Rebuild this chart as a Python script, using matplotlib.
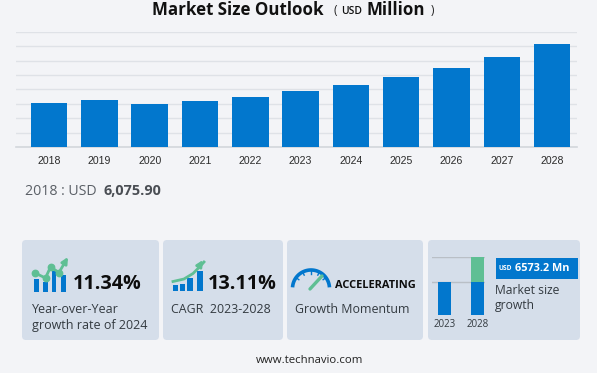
import numpy as np
import matplotlib
matplotlib.use('Agg')
import matplotlib.pyplot as plt
from matplotlib.patches import FancyBboxPatch, Rectangle

years = ['2018', '2019', '2020', '2021', '2022', '2023', '2024', '2025', '2026', '2027', '2028']
market_size = [6075.9, 6530, 5900, 6400, 7000, 7733, 8610, 9670, 10910, 12430, 14306]

# small bar icon in the last card, share of its height
mini_years = ['2023', '2028']
mini_base = [58, 58]
mini_growth = [0, 42]

BG = '#f3f4f7'
CARD = '#d5deea'
BLUE = '#0277cd'
GREEN = '#5fbf94'
GRID = '#dfe2e7'
DARK = '#333a40'
W, H = 597, 373

plt.rcParams['font.family'] = ['Open Sans', 'DejaVu Sans']

fig = plt.figure(figsize=(W / 100, H / 100), dpi=100, facecolor=BG)

# full figure axes in pixels, for cards, text and icons
bg = fig.add_axes([0, 0, 1, 1], zorder=0)
bg.set_xlim(0, W)
bg.set_ylim(H, 0)
bg.axis('off')


def px_axes(x0, y0, x1, y1):
    a = fig.add_axes([x0 / W, 1 - y1 / H, (x1 - x0) / W, (y1 - y0) / H], zorder=2)
    a.patch.set_alpha(0)
    return a


def label(x, y, s, size, weight='normal', color=DARK, ha='left'):
    bg.text(x, y, s, fontsize=size, fontweight=weight, color=color, ha=ha, va='center')


# main chart
ax = px_axes(16, 31.7, 577, 147)
ax.bar(range(len(years)), market_size, width=0.727, color=BLUE, zorder=3)
ax.set_xlim(-0.658, 10.495)
ax.set_ylim(0, 16000)
ax.set_yticks(np.arange(0, 16001, 2000))
ax.set_yticklabels([])
ax.set_xticks(range(len(years)))
ax.set_xticklabels(years, fontsize=7.6, color='#2b2b2b', family='Liberation Sans')
ax.tick_params(length=0, pad=6.5)
ax.grid(axis='y', color=GRID, lw=1, zorder=1)
for s in ['top', 'left', 'right']:
    ax.spines[s].set_visible(False)
ax.spines['bottom'].set_color('#d3d7dc')
ax.spines['bottom'].set_linewidth(1.2)

# title
label(152, 10, 'Market Size Outlook', 12.2, 'bold', '#111111')
label(334, 11, '(', 8.5, color='#222222')
label(341, 12, 'USD', 7.4, 'semibold', '#111111')
label(367, 10, 'Million', 12.2, 'bold', '#111111')
label(431, 11, ')', 8.5, color='#222222')

label(25, 191.5, '2018 : USD', 10.2, color='#5a5f66')
label(103.5, 191, '6,075.90', 10.4, 'bold', '#4a4e54')

# cards
for x0, x1 in [(22, 159), (163, 283), (287, 423), (428, 580)]:
    bg.add_patch(FancyBboxPatch((x0 + 3, 243), x1 - x0 - 6, 94,
                                boxstyle='round,pad=3,rounding_size=4',
                                fc=CARD, ec='none'))

# card 1
label(73, 284, '11.34%', 14.2, 'bold', '#0d0d0d')
label(31.5, 309.5, 'Year-over-Year', 9)
label(31.5, 325, 'growth rate of 2024', 9)
icon1_x = [36.6, 45.3, 54, 63.3]
icon1_top = [279, 282, 270.7, 275]
for x, t in zip(icon1_x, icon1_top):
    bg.add_patch(Rectangle((x - 2.3, t), 4.6, 291.7 - t, fc=BLUE, ec='none'))
icon1_lx = [35, 45.5, 50.5, 59, 65.5]
icon1_ly = [273, 278, 267, 272.5, 260]
bg.plot(icon1_lx[:-1], icon1_ly[:-1], color=GREEN, lw=2, marker='o', ms=4.6)
bg.annotate('', xy=(68, 257), xytext=(icon1_lx[3], icon1_ly[3]),
            arrowprops=dict(arrowstyle='-|>', color=GREEN, lw=2, mutation_scale=9,
                            shrinkA=0, shrinkB=0))

# card 2
label(207.5, 284, '13.11%', 14.2, 'bold', '#0d0d0d')
label(171, 309.5, 'CAGR  2023-2028', 8.9)
icon2_x = [173, 180, 187, 197]
icon2_top = [285, 283.7, 278.3, 271]
icon2_w = [5, 5, 6, 5.5]
for x, t, w in zip(icon2_x, icon2_top, icon2_w):
    bg.add_patch(Rectangle((x, t), w, 291 - t, fc=BLUE, ec='none'))
icon2_lx = [173, 184, 193, 200, 204]
icon2_ly = [281.5, 279, 273.5, 266.5, 262]
bg.plot(icon2_lx, icon2_ly, color=GREEN, lw=2)
bg.annotate('', xy=(203, 260), xytext=(199, 266.5),
            arrowprops=dict(arrowstyle='-|>', color=GREEN, lw=2, mutation_scale=9,
                            shrinkA=0, shrinkB=0))

# card 3
label(335, 285, 'ACCELERATING', 7.9, 'bold', '#0d0d0d')
label(295, 309.5, 'Growth Momentum', 8.9)
theta = np.linspace(np.pi * 0.02, np.pi * 0.98, 60)
bg.plot(311 - 18.5 * np.cos(theta), 288.5 - 18.5 * np.sin(theta), color=BLUE, lw=2.6,
        solid_capstyle='butt')
bg.plot([310, 322], [289, 276], color=GREEN, lw=2.4, solid_capstyle='round')
for a in np.linspace(0.2, 0.8, 5):
    bg.plot([311 - 18 * np.cos(a * np.pi), 311 - 15 * np.cos(a * np.pi)],
            [288.5 - 18 * np.sin(a * np.pi), 288.5 - 15 * np.sin(a * np.pi)],
            color=BLUE, lw=1)

# card 4
mini = px_axes(432, 257.3, 485, 315)
mini.bar(range(2), mini_base, width=0.38, color=BLUE, zorder=3)
mini.bar(range(2), mini_growth, bottom=mini_base, width=0.38, color=GREEN, zorder=3)
mini.set_xlim(-0.38, 1.22)
mini.set_ylim(0, 100)
mini.set_yticks([58, 100])
mini.set_yticklabels([])
mini.set_xticks(range(2))
mini.set_xticklabels(mini_years, fontsize=7, color=DARK)
mini.tick_params(length=0, pad=3)
mini.grid(axis='y', color='#b9bfc6', lw=1, zorder=1)
mini.spines[:].set_visible(False)

bg.add_patch(Rectangle((496, 257.7), 82, 21, fc=BLUE, ec='none'))
label(498.5, 269, 'USD', 4.8, 'bold', 'white')
label(515, 268.5, '6573.2 Mn', 7.8, 'bold', 'white')
label(495, 290.5, 'Market size', 8.7)
label(495, 305.5, 'growth', 8.7)

label(309.5, 360.5, 'www.technavio.com', 8.2, color='#222222', ha='center')

fig.savefig('out.png', dpi=100, facecolor=BG)
